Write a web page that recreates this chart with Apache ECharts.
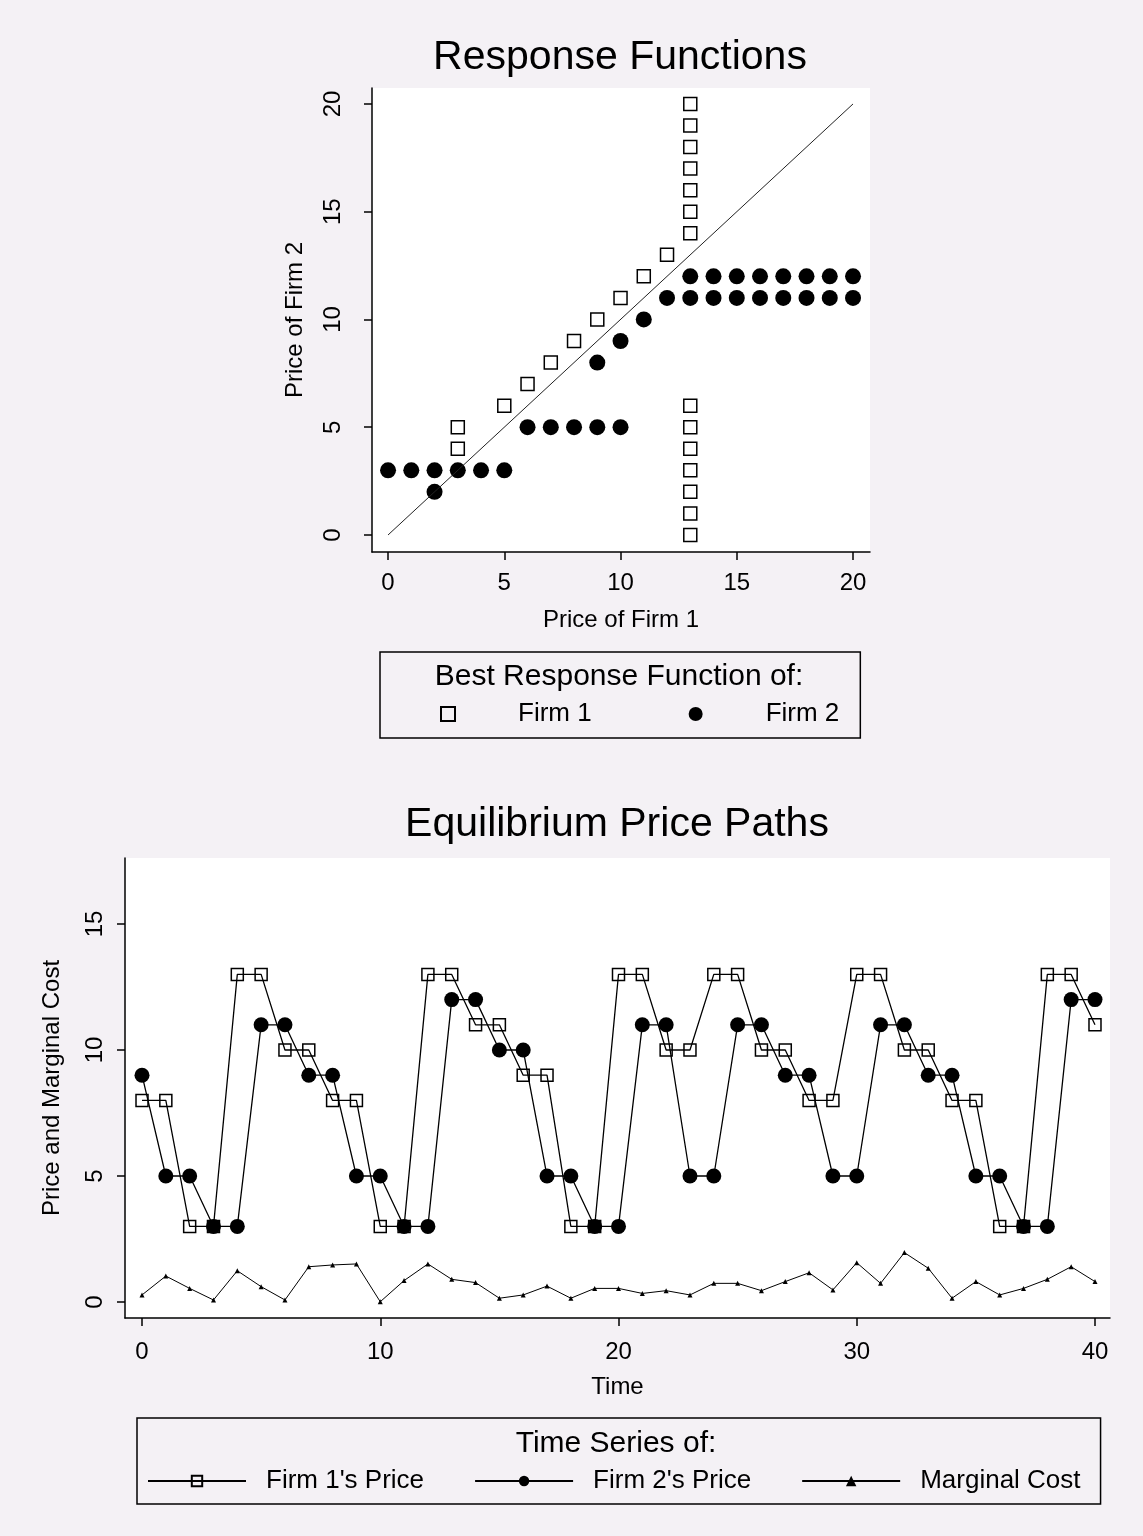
<!DOCTYPE html>
<html>
<head>
<meta charset="utf-8">
<script src="https://cdn.jsdelivr.net/npm/echarts@6/dist/echarts.min.js"></script>
<style>
  html, body { margin: 0; padding: 0; background: #f4f1f5; }
  #chart { width: 1143px; height: 1536px; }
</style>
</head>
<body>
<div id="chart"></div>
<script>
// ---- Response functions: [price of firm 1, price of firm 2] ----
// Firm 1's best response (x) to each price of firm 2 (y)
const firm1Response = [
  [13, 0], [13, 1], [13, 2], [13, 3], [13, 4], [13, 5], [13, 6],
  [3, 4], [3, 5], [5, 6], [6, 7], [7, 8], [8, 9], [9, 10], [10, 11], [11, 12], [12, 13],
  [13, 14], [13, 15], [13, 16], [13, 17], [13, 18], [13, 19], [13, 20]
];
// Firm 2's best response (y) to each price of firm 1 (x)
const firm2Response = [
  [0, 3], [1, 3], [2, 3], [3, 3], [4, 3], [5, 3], [2, 2],
  [6, 5], [7, 5], [8, 5], [9, 5], [10, 5],
  [9, 8], [10, 9], [11, 10], [12, 11],
  [13, 11], [14, 11], [15, 11], [16, 11], [17, 11], [18, 11], [19, 11], [20, 11],
  [13, 12], [14, 12], [15, 12], [16, 12], [17, 12], [18, 12], [19, 12], [20, 12]
];
const diagonal = [[0, 0], [20, 20]];
const priceTicks = [0, 5, 10, 15, 20];

// ---- Equilibrium price paths ----
const periods = [0, 1, 2, 3, 4, 5, 6, 7, 8, 9, 10, 11, 12, 13, 14, 15, 16, 17, 18, 19, 20,
                 21, 22, 23, 24, 25, 26, 27, 28, 29, 30, 31, 32, 33, 34, 35, 36, 37, 38, 39, 40];
const firm1Price = [8, 8, 3, 3, 13, 13, 10, 10, 8, 8, 3, 3, 13, 13, 11, 11, 9, 9, 3, 3, 13,
                    13, 10, 10, 13, 13, 10, 10, 8, 8, 13, 13, 10, 10, 8, 8, 3, 3, 13, 13, 11];
const firm2Price = [9, 5, 5, 3, 3, 11, 11, 9, 9, 5, 5, 3, 3, 12, 12, 10, 10, 5, 5, 3, 3,
                    11, 11, 5, 5, 11, 11, 9, 9, 5, 5, 11, 11, 9, 9, 5, 5, 3, 3, 12, 12];
const marginalCost = [0.28, 1.03, 0.54, 0.08, 1.24, 0.61, 0.08, 1.40, 1.47, 1.51, 0.01,
                      0.85, 1.51, 0.90, 0.77, 0.15, 0.28, 0.63, 0.15, 0.54, 0.54,
                      0.34, 0.45, 0.28, 0.74, 0.74, 0.45, 0.81, 1.16, 0.48, 1.56,
                      0.74, 1.96, 1.34, 0.15, 0.81, 0.28, 0.54, 0.90, 1.40, 0.81];
const timeTicks = [0, 10, 20, 30, 40];
const pathTicks = [0, 5, 10, 15];

const FONT = "'Liberation Sans', Arial, Helvetica, sans-serif";
const INK = '#000';

function pairs(xs, ys) { return xs.map((x, i) => [x, ys[i]]); }

function valueAxis(o) {
  return {
    type: 'value',
    gridIndex: o.grid,
    min: o.min,
    max: o.max,
    name: o.name,
    nameLocation: 'middle',
    nameGap: o.nameGap,
    nameTextStyle: { fontFamily: FONT, fontSize: 24, color: INK },
    axisLine: { show: true, onZero: false, lineStyle: { color: INK, width: 1.5 } },
    axisTick: { show: true, length: 8, customValues: o.ticks, lineStyle: { color: INK, width: 1.5 } },
    axisLabel: {
      customValues: o.ticks, margin: o.margin, rotate: o.rotate || 0,
      fontFamily: FONT, fontSize: 24, color: INK
    },
    splitLine: { show: false }
  };
}

const chart = echarts.init(document.getElementById('chart'), null, { renderer: 'canvas' });

chart.setOption({
  animation: false,
  backgroundColor: '#f4f1f5',
  textStyle: { fontFamily: FONT },
  title: [
    { text: 'Response Functions', left: 620, top: 37, textAlign: 'center', padding: 0,
      textStyle: { fontFamily: FONT, fontSize: 41, fontWeight: 'normal', color: INK } },
    { text: 'Best Response Function of:', left: 619, top: 662, textAlign: 'center', padding: 0,
      textStyle: { fontFamily: FONT, fontSize: 30, fontWeight: 'normal', color: INK } },
    { text: 'Equilibrium Price Paths', left: 617, top: 804, textAlign: 'center', padding: 0,
      textStyle: { fontFamily: FONT, fontSize: 41, fontWeight: 'normal', color: INK } },
    { text: 'Time Series of:', left: 616, top: 1429, textAlign: 'center', padding: 0,
      textStyle: { fontFamily: FONT, fontSize: 30, fontWeight: 'normal', color: INK } }
  ],
  legend: [
    {
      data: ['Firm 1', 'Firm 2'],
      selectedMode: false,
      left: 380, top: 652,
      orient: 'horizontal',
      itemWidth: 14, itemHeight: 14, itemGap: 97,
      padding: [49, 21, 11, 60],
      borderColor: INK, borderWidth: 1.5,
      textStyle: { fontFamily: FONT, fontSize: 26, color: INK, padding: [0, 0, 0, 58] }
    },
    {
      data: ["Firm 1's Price", "Firm 2's Price", 'Marginal Cost'],
      selectedMode: false,
      left: 137, top: 1418,
      orient: 'horizontal',
      itemWidth: 98, itemHeight: 13, itemGap: 50,
      padding: [50, 20, 10, 10],
      borderColor: INK, borderWidth: 1.5,
      textStyle: { fontFamily: FONT, fontSize: 26, color: INK, padding: [0, 0, 0, 15] }
    }
  ],
  grid: [
    { left: 372, top: 88, width: 498, height: 464, show: true, backgroundColor: '#fff', borderWidth: 0 },
    { left: 125, top: 858, width: 985, height: 460, show: true, backgroundColor: '#fff', borderWidth: 0 }
  ],
  xAxis: [
    valueAxis({ grid: 0, min: -0.69, max: 20.73, ticks: priceTicks, margin: 19,
                name: 'Price of Firm 1', nameGap: 56 }),
    valueAxis({ grid: 1, min: -0.714, max: 40.63, ticks: timeTicks, margin: 22,
                name: 'Time', nameGap: 57 })
  ],
  yAxis: [
    valueAxis({ grid: 0, min: -0.79, max: 20.74, ticks: priceTicks, margin: 27, rotate: 90,
                name: 'Price of Firm 2', nameGap: 65 }),
    valueAxis({ grid: 1, min: -0.635, max: 17.62, ticks: pathTicks, margin: 18, rotate: 90,
                name: 'Price and Marginal Cost', nameGap: 61 })
  ],
  series: [
    {
      type: 'line', name: 'Equal prices', xAxisIndex: 0, yAxisIndex: 0,
      data: diagonal, symbol: 'none', silent: true,
      lineStyle: { color: '#222', width: 1 }
    },
    {
      type: 'scatter', name: 'Firm 1', xAxisIndex: 0, yAxisIndex: 0,
      data: firm1Response, symbol: 'rect', symbolSize: 13,
      itemStyle: { color: 'rgba(255,255,255,0)', borderColor: INK, borderWidth: 1.5, opacity: 1 }
    },
    {
      type: 'scatter', name: 'Firm 2', xAxisIndex: 0, yAxisIndex: 0,
      data: firm2Response, symbol: 'circle', symbolSize: 16,
      itemStyle: { color: INK, opacity: 1 }
    },
    {
      type: 'line', name: "Firm 1's Price", xAxisIndex: 1, yAxisIndex: 1,
      data: pairs(periods, firm1Price), symbol: 'rect', symbolSize: 12, showSymbol: true,
      lineStyle: { color: INK, width: 1.3 },
      itemStyle: { color: 'rgba(255,255,255,0)', borderColor: INK, borderWidth: 1.5 }
    },
    {
      type: 'line', name: "Firm 2's Price", xAxisIndex: 1, yAxisIndex: 1,
      data: pairs(periods, firm2Price), symbol: 'circle', symbolSize: 15, showSymbol: true,
      lineStyle: { color: INK, width: 1.3 },
      itemStyle: { color: INK }
    },
    {
      type: 'line', name: 'Marginal Cost', xAxisIndex: 1, yAxisIndex: 1,
      data: pairs(periods, marginalCost), symbol: 'triangle', symbolSize: 5, showSymbol: true,
      lineStyle: { color: INK, width: 1 },
      itemStyle: { color: INK }
    }
  ]
});
</script>
</body>
</html>
